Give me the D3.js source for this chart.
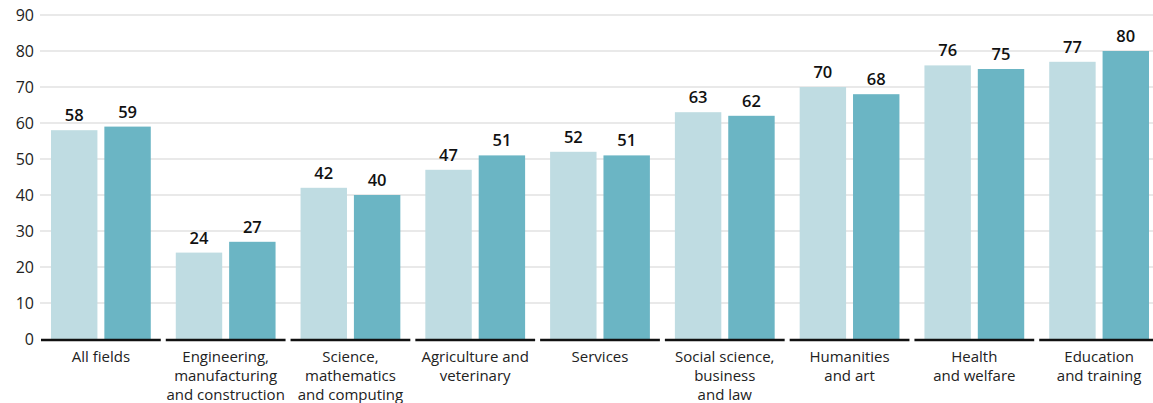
<!DOCTYPE html>
<html>
<head>
<meta charset="utf-8">
<script src="https://cdn.jsdelivr.net/npm/d3@7"></script>
<style>
  body { margin: 0; background: #fff; }
  text { font-family: "Open Sans", "DejaVu Sans", sans-serif; }
</style>
</head>
<body>
<svg id="chart" width="1153" height="403"></svg>
<script>
const categories = [
  "All fields",
  "Engineering,|manufacturing|and construction",
  "Science,|mathematics|and computing",
  "Agriculture and|veterinary",
  "Services",
  "Social science,|business|and law",
  "Humanities|and art",
  "Health|and welfare",
  "Education|and training"
];
const seriesA = [58, 24, 42, 47, 52, 63, 70, 76, 77];
const seriesB = [59, 27, 40, 51, 51, 62, 68, 75, 80];
const yTicks = [0, 10, 20, 30, 40, 50, 60, 70, 80, 90];

const svg = d3.select("#chart");
const width = +svg.attr("width");

const x = d3.scaleBand()
  .domain(categories)
  .range([39, 1162]);

const inner = d3.scaleBand()
  .domain(["a", "b"])
  .range([12, x.bandwidth() - 13])
  .paddingInner(0.13);

const y = d3.scaleLinear()
  .domain([0, 90])
  .range([339, 15]);

// gridlines
svg.append("g")
  .selectAll("line")
  .data(yTicks.filter(d => d > 0))
  .join("line")
  .attr("x1", 40)
  .attr("x2", width)
  .attr("y1", d => y(d))
  .attr("y2", d => y(d))
  .attr("stroke", "#d3d3d3")
  .attr("stroke-width", 1);

// y axis labels
const yAxis = svg.append("g")
  .attr("transform", "translate(34,0)")
  .call(d3.axisLeft(y).tickValues(yTicks).tickSize(0).tickPadding(0));
yAxis.select(".domain").remove();
yAxis.selectAll("text")
  .attr("fill", "#222")
  .style("font-size", "16px");

const rows = categories.map((c, i) => ({ cat: c, a: seriesA[i], b: seriesB[i] }));

const groups = svg.append("g")
  .selectAll("g")
  .data(rows)
  .join("g")
  .attr("transform", d => `translate(${x(d.cat)},0)`);

groups.append("rect")
  .attr("x", inner("a"))
  .attr("y", d => y(d.a))
  .attr("width", inner.bandwidth())
  .attr("height", d => y(0) - y(d.a))
  .attr("fill", "#bfdce2");

groups.append("rect")
  .attr("x", inner("b"))
  .attr("y", d => y(d.b))
  .attr("width", inner.bandwidth())
  .attr("height", d => y(0) - y(d.b))
  .attr("fill", "#6bb5c4");

groups.append("text")
  .attr("x", inner("a") + inner.bandwidth() / 2)
  .attr("y", d => y(d.a) - 9)
  .attr("text-anchor", "middle")
  .attr("font-size", "16.5px")
  .attr("font-weight", 600)
  .attr("fill", "#111")
  .text(d => d.a);

groups.append("text")
  .attr("x", inner("b") + inner.bandwidth() / 2)
  .attr("y", d => y(d.b) - 9)
  .attr("text-anchor", "middle")
  .attr("font-size", "16.5px")
  .attr("font-weight", 600)
  .attr("fill", "#111")
  .text(d => d.b);

// axis baseline segments
groups.append("line")
  .attr("x1", 2)
  .attr("x2", x.bandwidth() - 3)
  .attr("y1", y(0) + 1)
  .attr("y2", y(0) + 1)
  .attr("stroke", "#111")
  .attr("stroke-width", 2.5);

// category labels
const labels = groups.append("text")
  .attr("text-anchor", "middle")
  .attr("font-size", "15px")
  .attr("fill", "#222");

labels.selectAll("tspan")
  .data(d => d.cat.split("|"))
  .join("tspan")
  .attr("x", (x.bandwidth() - 1) / 2)
  .attr("y", (d, i) => 362 + i * 19)
  .text(d => d);
</script>
</body>
</html>
